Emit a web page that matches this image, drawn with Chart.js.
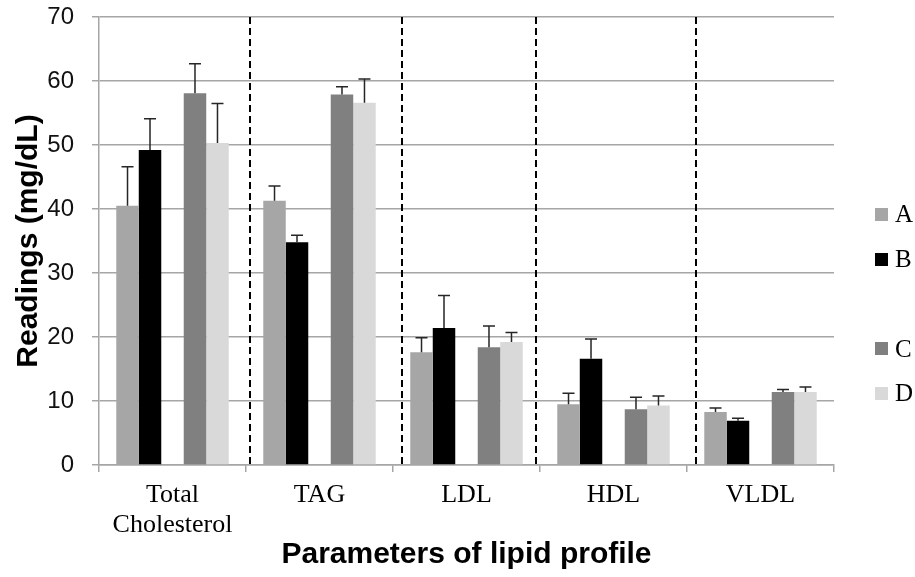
<!DOCTYPE html>
<html>
<head>
<meta charset="utf-8">
<script src="https://cdn.jsdelivr.net/npm/chart.js@4.4.1/dist/chart.umd.min.js"></script>
<style>
    body { margin: 0; background: #fff; }
    #wrap { position: relative; width: 915px; height: 577px; }
    #legend { position: absolute; left: 875px; top: 192px; font-family: "Liberation Serif", serif; font-size: 25px; color: #000; }
    #legend .item { height: 44.75px; display: flex; align-items: center; }
    #legend .box { width: 13px; height: 13px; margin-right: 7px; }
</style>
</head>
<body>
<div id="wrap">
    <canvas id="lipidChart"></canvas>
    <div id="legend"></div>
</div>
<script>
const categories = [['Total', 'Cholesterol'], 'TAG', 'LDL', 'HDL', 'VLDL'];

const seriesNames = ['A', 'B', '', 'C', 'D'];
const seriesColors = ['#a6a6a6', '#000000', 'rgba(0,0,0,0)', '#808080', '#d9d9d9'];

const valuesA = [40.5, 41.3, 17.6, 9.5, 8.3];
const valuesB = [49.2, 34.8, 21.4, 16.6, 6.9];
const valuesBlank = [null, null, null, null, null];
const valuesC = [58.1, 57.9, 18.4, 8.7, 11.4];
const valuesD = [50.3, 56.6, 19.2, 9.3, 11.4];

const errA = [6.1, 2.3, 2.3, 1.7, 0.6];
const errB = [4.9, 1.1, 5.1, 3.1, 0.4];
const errBlank = [null, null, null, null, null];
const errC = [4.6, 1.2, 3.3, 1.9, 0.4];
const errD = [6.2, 3.7, 1.5, 1.5, 0.8];

const yMin = 0;
const yMax = 70;
const yStep = 10;

// dashed separators, in category index units
const dividers = [0.53, 1.56, 2.47, 3.56];

const allValues = [valuesA, valuesB, valuesBlank, valuesC, valuesD];
const allErrors = [errA, errB, errBlank, errC, errD];

const gridGray = '#a6a6a6';

// Error bars (upper only)
const errorBars = {
    id: 'errorBars',
    afterDatasetsDraw(chart) {
        const ctx = chart.ctx;
        const yScale = chart.scales.y;
        ctx.save();
        ctx.strokeStyle = '#262626';
        ctx.lineWidth = 1.5;
        chart.data.datasets.forEach((ds, i) => {
            const meta = chart.getDatasetMeta(i);
            meta.data.forEach((bar, j) => {
                const v = allValues[i][j];
                const e = allErrors[i][j];
                if (v == null || e == null) return;
                const yTop = yScale.getPixelForValue(v + e);
                ctx.beginPath();
                ctx.moveTo(bar.x, bar.y);
                ctx.lineTo(bar.x, yTop);
                ctx.moveTo(bar.x - 6, yTop);
                ctx.lineTo(bar.x + 6, yTop);
                ctx.stroke();
            });
        });
        ctx.restore();
    }
};

// Dashed group separators
const separators = {
    id: 'separators',
    afterDatasetsDraw(chart) {
        const ctx = chart.ctx;
        const area = chart.chartArea;
        const xScale = chart.scales.x;
        ctx.save();
        ctx.strokeStyle = '#000';
        ctx.lineWidth = 2;
        ctx.setLineDash([7, 4]);
        dividers.forEach(d => {
            const x = Math.round(xScale.getPixelForValue(d));
            ctx.beginPath();
            ctx.moveTo(x, area.top);
            ctx.lineTo(x, area.bottom);
            ctx.stroke();
        });
        ctx.restore();
    }
};

const ctx = document.getElementById('lipidChart');

new Chart(ctx, {
    type: 'bar',
    data: {
        labels: categories,
        datasets: seriesNames.map((name, i) => ({
            label: name,
            data: allValues[i],
            backgroundColor: seriesColors[i],
            borderWidth: 0,
            categoryPercentage: 0.765,
            barPercentage: 1
        }))
    },
    options: {
        responsive: true,
        maintainAspectRatio: false,
        animation: false,
        layout: {
            padding: { left: 0, top: 17, right: 81, bottom: 0 }
        },
        plugins: {
            legend: { display: false },
            tooltip: { enabled: false }
        },
        scales: {
            x: {
                afterFit(scale) { scale.height = 112; },
                grid: {
                    drawOnChartArea: false,
                    drawTicks: true,
                    tickLength: 7,
                    color: gridGray,
                    lineWidth: 1.5
                },
                border: { color: gridGray, width: 1.5 },
                ticks: {
                    color: '#000',
                    padding: 8,
                    maxRotation: 0,
                    font: { family: 'Liberation Serif', size: 26, lineHeight: 1.15 }
                },
                title: {
                    display: true,
                    text: 'Parameters of lipid profile',
                    color: '#000',
                    padding: { top: 0, bottom: 4 },
                    font: { family: 'Liberation Sans', size: 30, weight: 'bold', lineHeight: 1.2 }
                }
            },
            y: {
                min: yMin,
                max: yMax,
                afterFit(scale) {
                    scale.width = 99;
                    scale.paddingTop = 12;
                    scale.paddingBottom = 12;
                },
                grid: {
                    color: gridGray,
                    lineWidth: 1.5,
                    drawTicks: true,
                    tickLength: 7
                },
                border: { color: gridGray, width: 1.5 },
                ticks: {
                    stepSize: yStep,
                    color: '#111',
                    padding: 18,
                    font: { family: 'Liberation Sans', size: 24 }
                },
                title: {
                    display: true,
                    text: 'Readings (mg/dL)',
                    color: '#000',
                    padding: { top: 11, bottom: 0 },
                    font: { family: 'Liberation Sans', size: 30, weight: 'bold', lineHeight: 1.2 }
                }
            }
        }
    },
    plugins: [separators, errorBars]
});

// Legend (blank third entry leaves the gap between B and C)
const legend = document.getElementById('legend');
seriesNames.forEach((name, i) => {
    const item = document.createElement('div');
    item.className = 'item';
    if (name) {
        const box = document.createElement('span');
        box.className = 'box';
        box.style.background = seriesColors[i];
        item.appendChild(box);
        item.appendChild(document.createTextNode(name));
    }
    legend.appendChild(item);
});
</script>
</body>
</html>
